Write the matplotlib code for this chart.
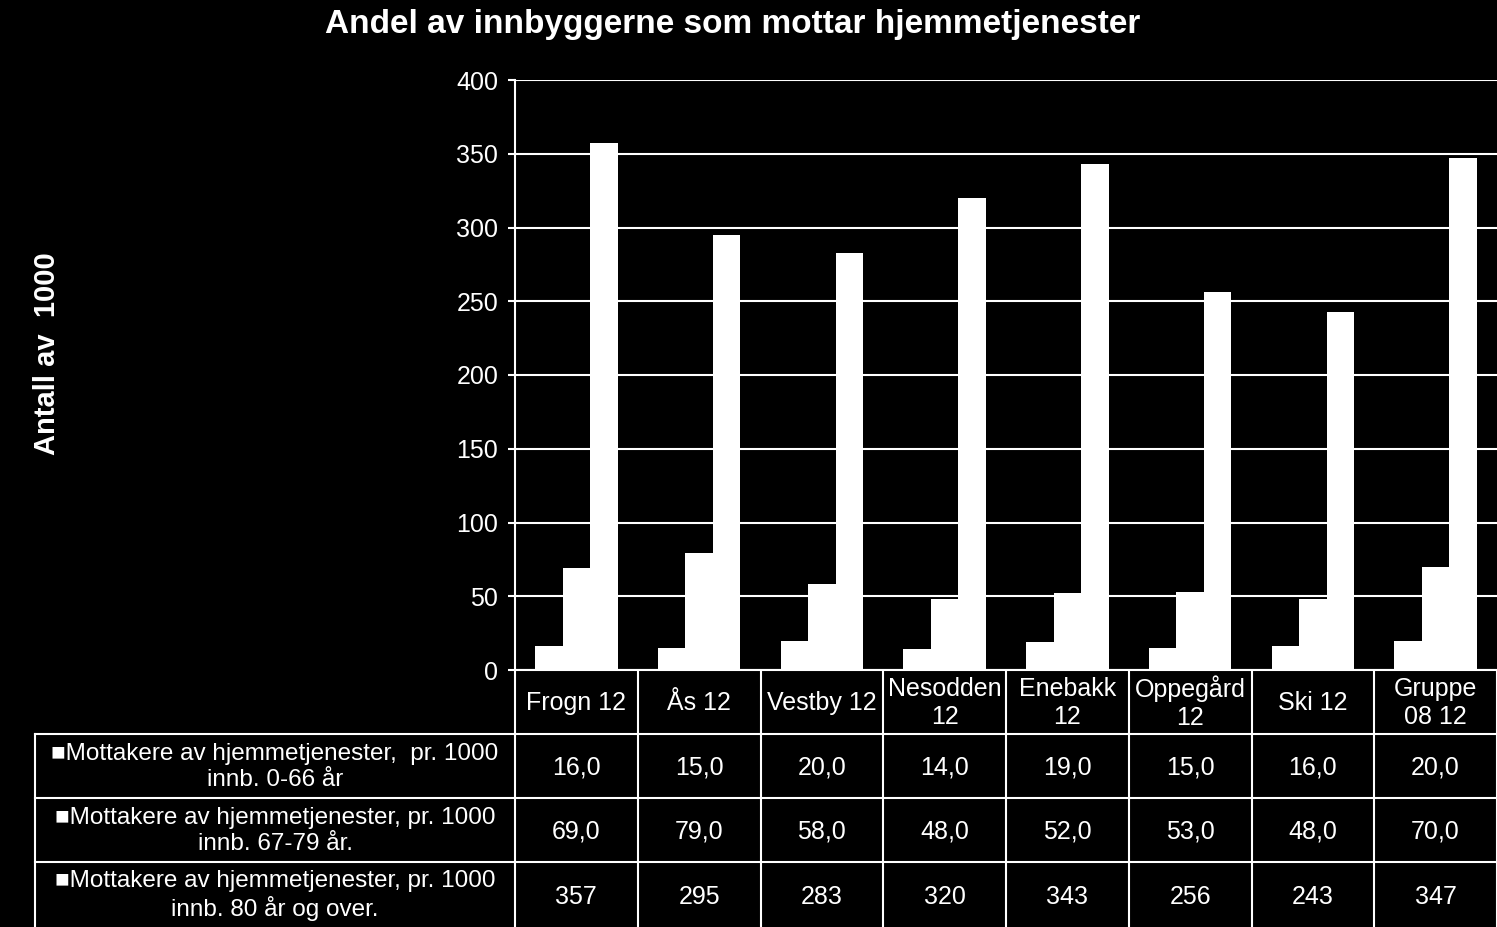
import matplotlib
matplotlib.use('Agg')
import matplotlib.pyplot as plt
import numpy as np

plt.rcParams['font.family'] = ['Liberation Sans', 'DejaVu Sans']

categories = ['Frogn 12', 'Ås 12', 'Vestby 12', 'Nesodden\n12', 'Enebakk\n12',
              'Oppegård\n12', 'Ski 12', 'Gruppe\n08 12']
age_0_66 = [16.0, 15.0, 20.0, 14.0, 19.0, 15.0, 16.0, 20.0]
age_67_79 = [69.0, 79.0, 58.0, 48.0, 52.0, 53.0, 48.0, 70.0]
age_80 = [357, 295, 283, 320, 343, 256, 243, 347]
series_labels = ['■Mottakere av hjemmetjenester,  pr. 1000\ninnb. 0-66 år',
                 '■Mottakere av hjemmetjenester, pr. 1000\ninnb. 67-79 år.',
                 '■Mottakere av hjemmetjenester, pr. 1000\ninnb. 80 år og over.']
yticks = [0, 50, 100, 150, 200, 250, 300, 350, 400]

W, H = 1497, 927
fig = plt.figure(figsize=(W / 100, H / 100), dpi=100, facecolor='black')

# main plot area (pixel layout)
ax_l, ax_r, ax_t, ax_b = 515, 1497, 80, 670
ax = fig.add_axes([ax_l / W, (H - ax_b) / H, (ax_r - ax_l) / W, (ax_b - ax_t) / H])
ax.set_facecolor('black')

x = np.arange(len(categories))
bw = 0.224
for k, vals in enumerate([age_0_66, age_67_79, age_80]):
    ax.bar(x + (k - 1) * bw, vals, width=bw, color='white', edgecolor='none', zorder=3)

ax.set_xlim(-0.5, len(categories) - 0.5)
ax.set_ylim(0, 400)
ax.set_yticks(yticks)
ax.set_xticks([])
ax.yaxis.grid(True, color='white', linewidth=1.5, zorder=1)
ax.tick_params(axis='y', colors='white', labelsize=18, length=5, width=1.5, pad=7)
for s in ['top', 'right']:
    ax.spines[s].set_visible(False)
ax.spines['left'].set_color('white')
ax.spines['left'].set_linewidth(1.5)
ax.spines['bottom'].set_color('white')
ax.spines['bottom'].set_linewidth(1.5)

fig.text(733 / W, (H - 25) / H, 'Andel av innbyggerne som mottar hjemmetjenester',
         color='white', fontsize=24, fontweight='bold', ha='center', va='center')
fig.text(47 / W, (H - 354) / H, 'Antall av  1000', color='white', fontsize=21,
         fontweight='bold', rotation=90, ha='center', va='center')

# data table below the axes
tb = fig.add_axes([0, 0, 1, (H - ax_b) / H])
tb.set_xlim(0, W)
tb.set_ylim(H, ax_b)
tb.axis('off')

cw = (ax_r - ax_l) / len(categories)
row_y = [ax_b, 734, 798, 862, H]
lc = dict(color='white', lw=1.5)

for i in range(len(categories) + 1):
    xx = ax_l + i * cw
    tb.plot([xx, xx], [ax_b, H], **lc)
tb.plot([35, 35], [row_y[1], H], **lc)
for yy in row_y[1:4]:
    tb.plot([35, W], [yy, yy], **lc)

for i, c in enumerate(categories):
    tb.text(ax_l + (i + 0.5) * cw, (row_y[0] + row_y[1]) / 2 + 1, c, color='white',
            fontsize=18, ha='center', va='center', linespacing=1.2)

rows = [[f'{v:.1f}'.replace('.', ',') for v in age_0_66],
        [f'{v:.1f}'.replace('.', ',') for v in age_67_79],
        [f'{v}' for v in age_80]]
for r, (lab, vals) in enumerate(zip(series_labels, rows)):
    yc = (row_y[r + 1] + row_y[r + 2]) / 2
    tb.text(275, yc + 1, lab, color='white', fontsize=17.5, ha='center', va='center',
            multialignment='center', linespacing=1.2)
    for i, v in enumerate(vals):
        tb.text(ax_l + (i + 0.5) * cw, yc + 2, v, color='white', fontsize=18,
                ha='center', va='center')

fig.savefig('out.png', dpi=100, facecolor='black')
